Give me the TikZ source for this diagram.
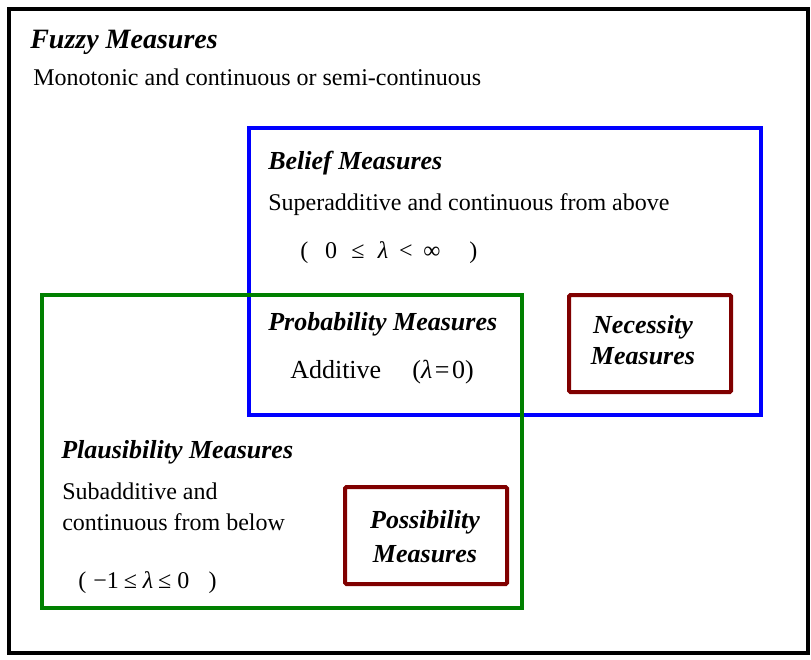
\documentclass[tikz,border=0pt]{standalone}
\usepackage{fontspec}
\setmainfont{Liberation Serif}
\usetikzlibrary{positioning}

\definecolor{beliefblue}{RGB}{0,0,255}
\definecolor{plausgreen}{RGB}{0,128,0}
\definecolor{boxred}{RGB}{128,0,0}

\tikzset{
  title/.style={anchor=base west, inner sep=0pt, font=\fontsize{21}{25}\selectfont\bfseries\itshape},
  head/.style={anchor=base west, inner sep=0pt, font=\fontsize{19.5}{23}\selectfont\bfseries\itshape},
  body/.style={anchor=base west, inner sep=0pt, font=\fontsize{18}{21}\selectfont},
  boxtext/.style={anchor=base, inner sep=0pt, font=\fontsize{19.5}{23}\selectfont\bfseries\itshape},
  frame/.style={line width=3pt}
}

\begin{document}
\begin{tikzpicture}[x=0.75pt,y=-0.75pt]
    \useasboundingbox (0,0) rectangle (811,660);

    % Draw the outer frame and the set boxes
    \draw[frame, line width=3.4pt] (9,9) rectangle (808,653);
    \draw[frame, beliefblue] (249,128) rectangle (761,415);
    \draw[frame, plausgreen] (42,295) rectangle (522,608);
    \draw[frame, boxred, rounded corners=1pt] (569,295) rectangle (731,392);
    \draw[frame, boxred, rounded corners=1pt] (345,487) rectangle (507,584);

    % Fuzzy measures
    \node[title] (fuzzy) at (30,49) {Fuzzy Measures};
    \node[body] (fuzzytxt) at (33,86) {Monotonic and continuous or semi-continuous};

    % Belief measures
    \node[head] (belief) at (268,170) {Belief Measures};
    \node[body] (belieftxt) at (268,210) {Superadditive and continuous from above};
    \node[body] (belieflam) at (300,258) {(\hskip.7em0\hskip.6em≤\hskip.55em\textit{λ}\hskip.45em<\hskip.45em∞\hskip1.2em)};

    % Probability measures
    \node[head] (prob) at (268,330) {Probability Measures};
    \node[body, font=\fontsize{19.5}{23}\selectfont] (probtxt) at (290,378) {Additive\hskip1.2em(\textit{λ}\hskip.1em=\hskip.1em0)};

    % Necessity measures
    \node[boxtext] (necA) at (643,333) {Necessity};
    \node[boxtext] (necB) at (643,364) {Measures};

    % Plausibility measures
    \node[head] (plaus) at (61,458) {Plausibility Measures};
    \node[body] (plaustxtA) at (62,499) {Subadditive and};
    \node[body] (plaustxtB) at (62,530) {continuous from below};
    \node[body] (plauslam) at (78,588) {(\hskip.3em−1\hskip.2em≤\hskip.25em\textit{λ}\hskip.2em≤\hskip.25em0\hskip.8em)};

    % Possibility measures
    \node[boxtext] (possA) at (425,528) {Possibility};
    \node[boxtext] (possB) at (425,562) {Measures};
\end{tikzpicture}
\end{document}
